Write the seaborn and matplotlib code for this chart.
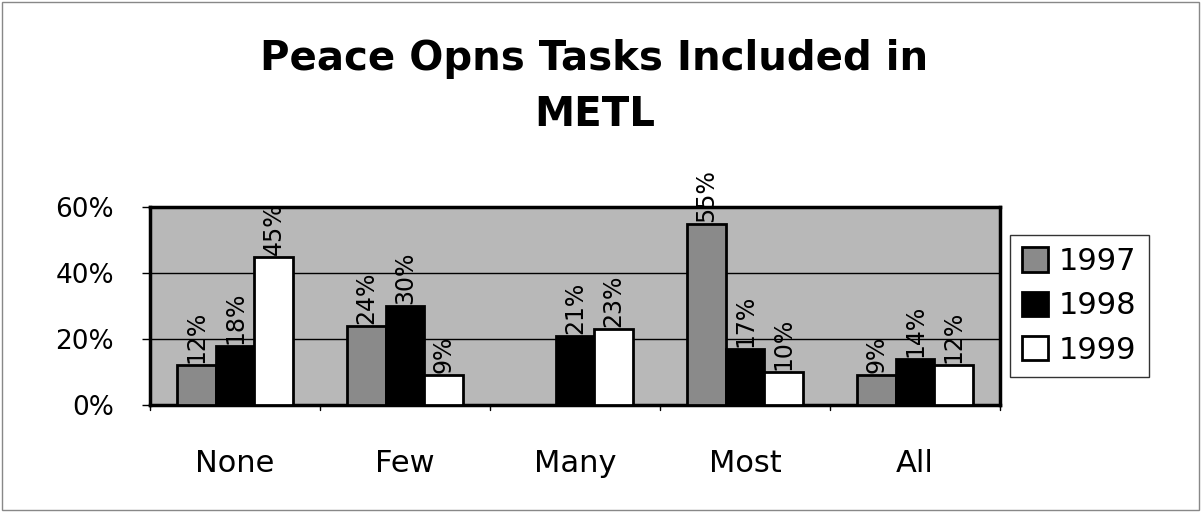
import pandas as pd
import matplotlib.pyplot as plt
import seaborn as sns

categories = ["None", "Few", "Many", "Most", "All"]
years = ["1997", "1998", "1999"]
v1997 = [12, 24, 0, 55, 9]
v1998 = [18, 30, 21, 17, 14]
v1999 = [45, 9, 23, 10, 12]

rows = []
for yr, vals in zip(years, [v1997, v1998, v1999]):
    for c, v in zip(categories, vals):
        rows.append({"cat": c, "year": yr, "pct": v})
df = pd.DataFrame(rows)

sns.set_theme(style="white")
plt.rcParams["font.family"] = ["DejaVu Sans"]
plt.rcParams["text.color"] = "black"
plt.rcParams["xtick.color"] = "black"
plt.rcParams["ytick.color"] = "black"

fig = plt.figure(figsize=(12.01, 5.12), dpi=100)
ax = fig.add_axes([150 / 1201, 1 - 405 / 512, 850 / 1201, 198 / 512])

colors = {"1997": "#8a8a8a", "1998": "#000000", "1999": "#ffffff"}
sns.barplot(data=df, x="cat", y="pct", hue="year", palette=colors, ax=ax,
            width=0.68, edgecolor="black", linewidth=2, saturation=1, zorder=3)

ax.set_facecolor("#b8b8b8")
ax.set_ylim(0, 60)
ax.set_xlim(-0.5, 4.5)
ax.set_yticks([0, 20, 40, 60])
ax.set_yticklabels(["0%", "20%", "40%", "60%"], fontsize=19)
ax.tick_params(axis="y", left=True, length=6, width=1, direction="out", pad=20)
ax.yaxis.grid(True, color="black", linewidth=1, zorder=1)
ax.set_axisbelow(True)

ax.set_xticks([i for i in range(5)])
ax.set_xticklabels(categories, fontsize=22)
ax.tick_params(axis="x", length=0, pad=32)
for b in [-0.5, 0.5, 1.5, 2.5, 3.5, 4.5]:
    ax.plot([b, b], [0, -1.6], color="black", linewidth=1, clip_on=False)
ax.set_xlabel("")
ax.set_ylabel("")
for s in ax.spines.values():
    s.set_color("black")
    s.set_linewidth(2.5)

for cont in ax.containers:
    for bar in cont:
        h = bar.get_height()
        if h > 0:
            ax.text(bar.get_x() + bar.get_width() / 2, h + 0.6, f"{h:.0f}%",
                    rotation=90, ha="center", va="bottom", fontsize=17, clip_on=False)

leg = ax.legend(loc="center left", bbox_to_anchor=(1.012, 0.5), fontsize=22,
                frameon=True, fancybox=False, edgecolor="black",
                handlelength=0.85, handleheight=0.85, handletextpad=0.35,
                labelspacing=0.5, borderpad=0.4, borderaxespad=0)
leg.get_frame().set_linewidth(1)

fig.text(0.495, 0.885, "Peace Opns Tasks Included in", ha="center", va="center",
         fontsize=29, fontweight="bold")
fig.text(0.495, 0.775, "METL", ha="center", va="center",
         fontsize=29, fontweight="bold")

fig.patches.append(plt.Rectangle((0.002, 0.004), 0.996, 0.992, transform=fig.transFigure,
                                 fill=False, edgecolor="#888888", linewidth=1))

fig.savefig("out.png", dpi=100)
